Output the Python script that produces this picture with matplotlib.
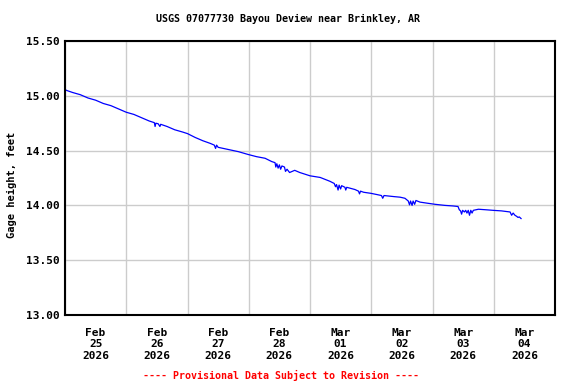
import matplotlib
matplotlib.use("Agg")
import matplotlib.pyplot as plt
import matplotlib.dates as mdates
from datetime import datetime, timedelta

title = "USGS 07077730 Bayou Deview near Brinkley, AR"
ylabel = "Gage height, feet"
footer = "---- Provisional Data Subject to Revision ----"

start = datetime(2026, 2, 25, 0, 0)
day_starts = ["2026-02-25", "2026-02-26", "2026-02-27", "2026-02-28",
              "2026-03-01", "2026-03-02", "2026-03-03", "2026-03-04", "2026-03-05"]
day_labels = ["Feb\n25\n2026", "Feb\n26\n2026", "Feb\n27\n2026", "Feb\n28\n2026",
              "Mar\n01\n2026", "Mar\n02\n2026", "Mar\n03\n2026", "Mar\n04\n2026"]
y_ticks = [13.00, 13.50, 14.00, 14.50, 15.00, 15.50]

# hours since 2026-02-25 00:00
hours = [0.0, 0.5, 3.0, 6.0, 9.0, 12.0, 15.0, 18.0, 21.0, 24.0, 27.0, 30.0, 33.0,
         35.0, 35.3, 35.6, 36.5, 37.2, 37.5, 40.0, 43.0, 46.0, 48.0, 51.0, 54.0,
         57.0, 58.5, 59.0, 59.4, 60.0, 62.0, 65.0, 68.0, 71.7, 75.0, 78.4, 81.0,
         82.3, 82.6, 83.0, 83.5, 84.0, 84.5, 85.0, 86.0, 86.4, 87.0, 88.0, 89.0,
         90.0, 92.0, 96.0, 100.0, 103.8, 105.5, 106.0, 106.4, 107.0, 107.4, 108.0,
         108.4, 109.7, 110.0, 110.4, 113.6, 115.0, 115.4, 115.8, 117.0, 119.9,
         122.0, 124.0, 124.5, 125.0, 127.0, 129.0, 131.3, 133.2, 134.5, 135.0,
         135.4, 136.0, 136.4, 137.0, 137.5, 139.1, 142.0, 145.0, 148.9, 152.0,
         154.0, 154.5, 155.0, 155.4, 155.8, 156.5, 157.0, 157.5, 158.0, 158.5,
         159.0, 159.5, 160.0, 161.0, 162.0, 165.0, 167.7, 171.0, 174.4, 175.0,
         175.6, 176.3, 177.0, 177.5, 178.0, 178.7]
gage = [15.06, 15.05, 15.03, 15.01, 14.98, 14.96, 14.93, 14.91, 14.88, 14.85, 14.83,
        14.80, 14.77, 14.755, 14.72, 14.75, 14.745, 14.72, 14.74, 14.72, 14.69, 14.67,
        14.655, 14.62, 14.59, 14.565, 14.55, 14.52, 14.55, 14.53, 14.52, 14.505, 14.49,
        14.465, 14.445, 14.43, 14.40, 14.39, 14.35, 14.38, 14.34, 14.37, 14.33, 14.36,
        14.35, 14.31, 14.33, 14.30, 14.31, 14.32, 14.30, 14.27, 14.255, 14.22, 14.20,
        14.17, 14.19, 14.14, 14.185, 14.15, 14.18, 14.165, 14.14, 14.165, 14.145,
        14.13, 14.105, 14.13, 14.12, 14.11, 14.10, 14.09, 14.065, 14.09, 14.085,
        14.08, 14.075, 14.065, 14.04, 14.005, 14.04, 14.00, 14.04, 14.01, 14.045,
        14.03, 14.02, 14.01, 14.00, 13.995, 13.99, 13.96, 13.95, 13.92, 13.955,
        13.94, 13.955, 13.93, 13.955, 13.91, 13.955, 13.93, 13.955, 13.96, 13.965,
        13.96, 13.955, 13.95, 13.94, 13.91, 13.93, 13.91, 13.90, 13.89, 13.895, 13.88]

times = [start + timedelta(hours=h) for h in hours]

plt.rcParams['font.family'] = ['DejaVu Sans Mono']
plt.rcParams['font.weight'] = 'bold'

fig = plt.figure(figsize=(5.76, 3.84), dpi=100)
ax = fig.add_axes([65/576, 1-315/384, 490/576, 274/384])

ax.plot(times, gage, color='#0000ff', lw=0.9)

major = [mdates.date2num(datetime.strptime(d, "%Y-%m-%d")) for d in day_starts]
ax.set_xlim(major[0], major[-1])
ax.set_ylim(13.0, 15.5)

ax.xaxis.set_major_locator(matplotlib.ticker.FixedLocator(major))
ax.xaxis.set_major_formatter(matplotlib.ticker.NullFormatter())
minor = [m + 0.5 for m in major[:-1]]
ax.xaxis.set_minor_locator(matplotlib.ticker.FixedLocator(minor))
ax.xaxis.set_minor_formatter(matplotlib.ticker.FixedFormatter(day_labels))

ax.set_yticks(y_ticks)
ax.set_yticklabels([f"{v:.2f}" for v in y_ticks])

ax.grid(True, which='major', color='#cccccc', lw=1)
ax.set_axisbelow(True)
ax.tick_params(axis='both', which='both', length=0, labelsize=8)
ax.tick_params(axis='x', which='minor', pad=9)
ax.tick_params(axis='y', pad=4)
for lab in ax.get_xticklabels(minor=True):
    lab.set_fontweight('bold')
for lab in ax.get_yticklabels():
    lab.set_fontweight('bold')
for s in ax.spines.values():
    s.set_linewidth(1.5)
    s.set_color('black')

fig.text(288/576, 1-19/384, title, ha='center', va='center', fontsize=7.2, fontweight='bold')
fig.text(12/576, 1-185/384, ylabel, ha='center', va='center', rotation=90, fontsize=7.5, fontweight='bold')
fig.text(281/576, 1-375/384, footer, ha='center', va='center', fontsize=7.2, fontweight='bold', color='red')

fig.savefig("out.png", dpi=100)
